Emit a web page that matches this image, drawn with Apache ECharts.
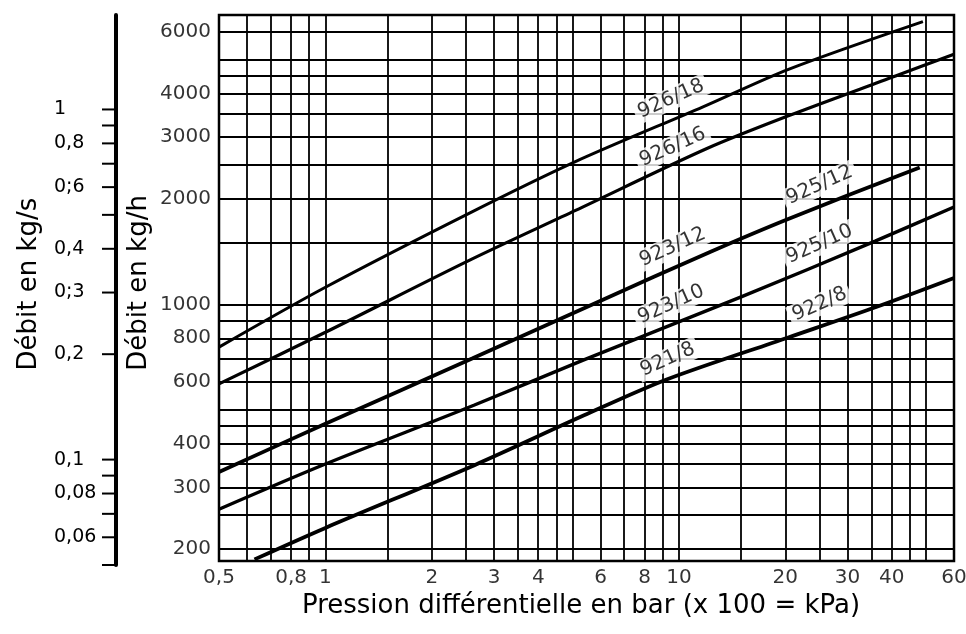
<!DOCTYPE html>
<html>
<head>
<meta charset="utf-8">
<script src="https://cdn.jsdelivr.net/npm/echarts@6/dist/echarts.min.js"></script>
<style>
  html, body { margin: 0; padding: 0; background: #fff; }
  #chart { width: 966px; height: 634px; }
</style>
</head>
<body>
<div id="chart"></div>
<script>
// Axis ranges: differential pressure (bar) and mass flow (kg/h), both logarithmic
const pressureMin = 0.5;
const pressureMax = 60;
const flowMin = 185;
const flowMax = 6700;

// Grid lines of the log-log paper
const pressureGrid = [0.5, 0.6, 0.7, 0.8, 0.9, 1, 1.5, 2, 2.5, 3, 3.5, 4, 4.5, 5, 6, 7, 8, 9,
  10, 15, 20, 25, 30, 35, 40, 45, 50, 60];
const flowGrid = [200, 250, 300, 350, 400, 450, 500, 600, 700, 800, 900, 1000, 1500, 2000,
  2500, 3000, 3500, 4000, 4500, 5000, 6000];

// Tick labels
const pressureTicks = [0.5, 0.8, 1, 2, 3, 4, 6, 8, 10, 20, 30, 40, 60];
const pressureTickLabels = ['0,5', '0,8', '1', '2', '3', '4', '6', '8', '10', '20', '30', '40', '60'];
const flowTicks = [200, 300, 400, 600, 800, 1000, 2000, 3000, 4000, 6000];
const flowTickLabels = ['200', '300', '400', '600', '800', '1000', '2000', '3000', '4000', '6000'];

// Secondary scale in kg/s (1 kg/s = 3600 kg/h)
const massMin = 0.05;
const massTicks = [0.05, 0.06, 0.07, 0.08, 0.09, 0.1, 0.2, 0.3, 0.4, 0.5, 0.6, 0.7, 0.8, 0.9, 1];
const massLabelValues = [1, 0.8, 0.6, 0.4, 0.3, 0.2, 0.1, 0.08, 0.06];
const massLabels = ['1', '0,8', '0;6', '0,4', '0;3', '0,2', '0,1', '0,08', '0,06'];

// Flow curves [pressure bar, flow kg/h]
const curve926_18 = [[0.5, 755], [1, 1119], [2.54, 1816], [5.06, 2547], [11.7, 3663], [20.5, 4696], [49, 6417]];
const curve926_16 = [[0.5, 593], [1, 832], [2.56, 1337], [5.1, 1854], [12, 2785], [20.4, 3453], [41, 4487], [60, 5180]];
const curve923_12 = [[0.5, 332], [1, 456], [2.6, 700], [5.9, 1016], [12.25, 1411], [20.3, 1750], [48, 2460]];
const curve923_10 = [[0.5, 260], [1, 350], [2.63, 515], [5.34, 692], [15, 1050], [35.9, 1515], [60, 1897]];
const curve921_8 = [[0.63, 187], [1, 230], [2.65, 348], [5.39, 482], [9.23, 610], [20.3, 803], [36.3, 984], [60, 1189]];

const curveNames = ['926/18', '926/16', '923/12 - 925/12', '923/10 - 925/10', '921/8 - 922/8'];
const curves = [curve926_18, curve926_16, curve923_12, curve923_10, curve921_8];
const curveWidths = [3, 3.2, 3.8, 3.4, 3.8];

// Type designations written along the curves, anchored in data units
const typeLabels = ['926/18', '926/16', '923/12', '925/12', '923/10', '925/10', '921/8', '922/8'];
const typeLabelAt = [[9.5, 3860], [9.6, 2810], [9.6, 1457], [25, 2190], [9.5, 1000], [25, 1486], [9.3, 696], [25, 1000]];

const FONT = "'DejaVu Sans', 'Liberation Sans', sans-serif";

const chart = echarts.init(document.getElementById('chart'), null, { renderer: 'canvas' });

const gridLineSeries = {
  type: 'line',
  xAxisIndex: 0,
  yAxisIndex: 0,
  data: [],
  silent: true,
  z: 1,
  markLine: {
    silent: true,
    symbol: ['none', 'none'],
    label: { show: false },
    lineStyle: { color: '#000', width: 1.8, type: 'solid', opacity: 1 },
    emphasis: { disabled: true },
    animation: false,
    data: pressureGrid.map(v => ({ xAxis: v })).concat(flowGrid.map(v => ({ yAxis: v })))
  }
};

const curveSeries = curves.map((c, i) => ({
  name: curveNames[i],
  type: 'line',
  xAxisIndex: 0,
  yAxisIndex: 0,
  data: c,
  showSymbol: false,
  smooth: 0.3,
  lineStyle: { color: '#000', width: curveWidths[i] },
  z: 3,
  silent: true
}));

const xTickSeries = {
  type: 'scatter',
  xAxisIndex: 0,
  yAxisIndex: 0,
  symbolSize: 0,
  clip: false,
  silent: true,
  data: pressureTicks.map((v, i) => [v, flowMin, pressureTickLabels[i]]),
  label: {
    show: true,
    position: 'bottom',
    distance: 7,
    formatter: p => p.data[2],
    color: '#000',
    fontFamily: FONT,
    fontSize: 20
  }
};

const yTickSeries = {
  type: 'scatter',
  xAxisIndex: 0,
  yAxisIndex: 0,
  symbolSize: 0,
  clip: false,
  silent: true,
  data: flowTicks.map((v, i) => [pressureMin, v, flowTickLabels[i]]),
  label: {
    show: true,
    position: 'left',
    distance: 8,
    formatter: p => p.data[2],
    color: '#000',
    fontFamily: FONT,
    fontSize: 20
  }
};

const typeLabelSeries = {
  type: 'scatter',
  xAxisIndex: 0,
  yAxisIndex: 0,
  symbolSize: 0,
  silent: true,
  z: 5,
  data: typeLabelAt.map((p, i) => [p[0], p[1], typeLabels[i]]),
  label: {
    show: true,
    position: 'inside',
    rotate: 24,
    formatter: p => p.data[2],
    color: '#000',
    fontFamily: FONT,
    fontSize: 20,
    backgroundColor: '#fff',
    padding: [1, 4]
  }
};

const massTickSeries = {
  type: 'custom',
  xAxisIndex: 1,
  yAxisIndex: 1,
  clip: false,
  silent: true,
  data: massTicks.map(v => [0, v]),
  renderItem: (params, api) => {
    const p = api.coord([0, api.value(1)]);
    return {
      type: 'line',
      shape: { x1: p[0] - 14, y1: p[1], x2: p[0], y2: p[1] },
      style: { stroke: '#000', lineWidth: 2 }
    };
  }
};

const massLabelSeries = {
  type: 'custom',
  xAxisIndex: 1,
  yAxisIndex: 1,
  clip: false,
  silent: true,
  data: massLabelValues.map(v => [0, v]),
  renderItem: (params, api) => {
    const p = api.coord([0, api.value(1)]);
    return {
      type: 'text',
      x: p[0] - 62,
      y: p[1],
      style: {
        text: massLabels[params.dataIndex],
        fill: '#000',
        font: '19px ' + FONT,
        align: 'left',
        verticalAlign: 'middle'
      }
    };
  }
};

chart.setOption({
  animation: false,
  backgroundColor: '#fff',
  grid: [
    { left: 219, right: 12, top: 15, bottom: 73, show: true, borderColor: '#000', borderWidth: 2.5, backgroundColor: 'transparent' },
    { left: 116, width: 1, top: 15, bottom: 69, show: false }
  ],
  xAxis: [
    {
      type: 'log', gridIndex: 0, min: pressureMin, max: pressureMax,
      axisLine: { show: false }, axisTick: { show: false }, axisLabel: { show: false }, splitLine: { show: false }
    },
    {
      type: 'value', gridIndex: 1, min: 0, max: 1, show: false
    }
  ],
  yAxis: [
    {
      type: 'log', gridIndex: 0, min: flowMin, max: flowMax,
      axisLine: { show: false }, axisTick: { show: false }, axisLabel: { show: false }, splitLine: { show: false }
    },
    {
      type: 'log', gridIndex: 1, min: massMin, max: flowMax / 3600,
      axisLine: { show: true, onZero: false, lineStyle: { color: '#000', width: 4 } },
      axisTick: { show: false }, axisLabel: { show: false }, splitLine: { show: false }
    }
  ],
  graphic: [
    {
      type: 'text', x: 29, y: 284, rotation: Math.PI / 2,
      style: { text: 'Débit en kg/s', font: '26px ' + FONT, fill: '#000', align: 'center', verticalAlign: 'middle' }
    },
    {
      type: 'text', x: 139, y: 283, rotation: Math.PI / 2,
      style: { text: 'Débit en kg/h', font: '26px ' + FONT, fill: '#000', align: 'center', verticalAlign: 'middle' }
    },
    {
      type: 'text', x: 581, y: 606,
      style: { text: 'Pression différentielle en bar (x 100 = kPa)', font: '26px ' + FONT, fill: '#000', align: 'center', verticalAlign: 'middle' }
    }
  ],
  series: [gridLineSeries].concat(curveSeries, [xTickSeries, yTickSeries, typeLabelSeries, massTickSeries, massLabelSeries])
});
</script>
</body>
</html>
